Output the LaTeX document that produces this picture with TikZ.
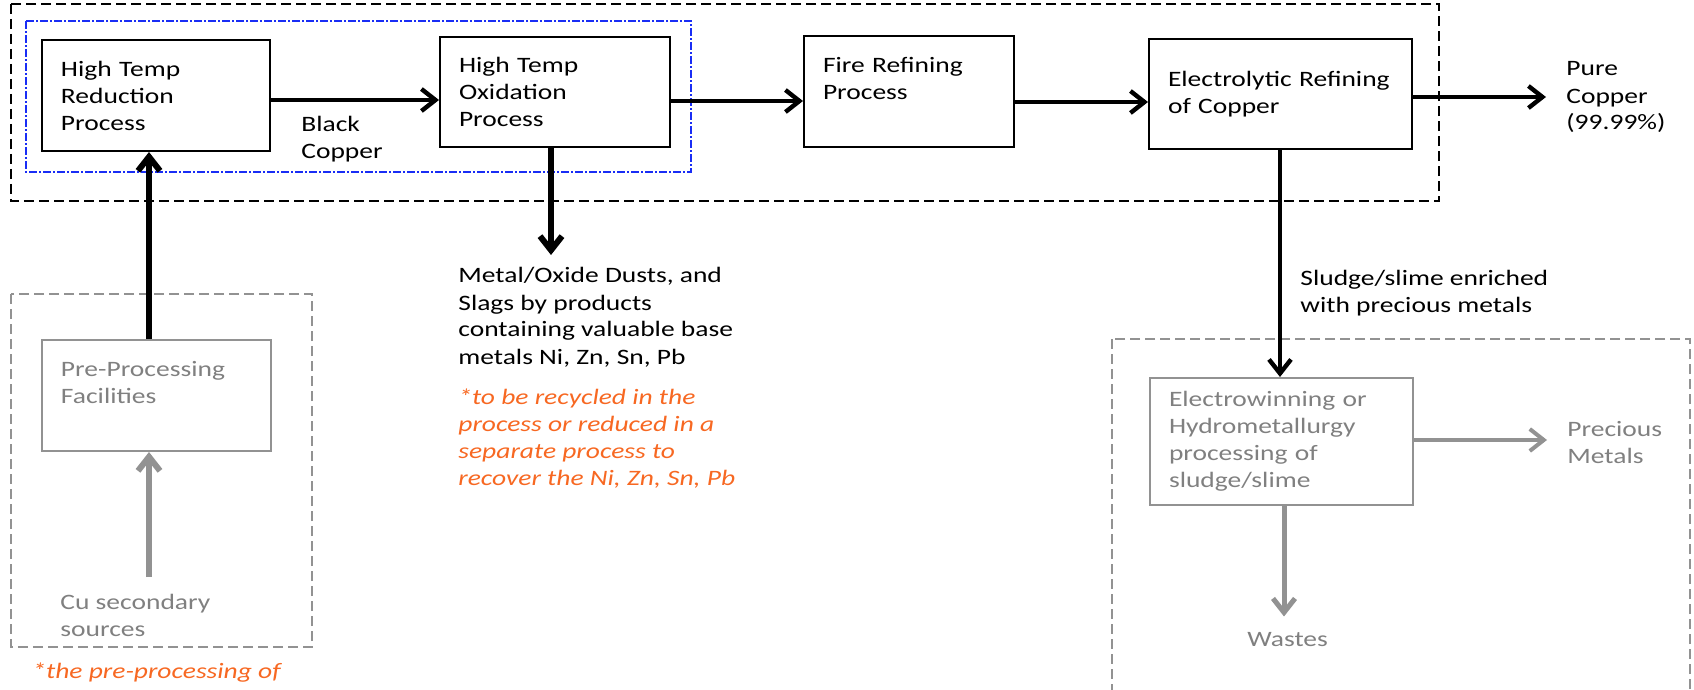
\documentclass[tikz,border=0pt]{standalone}
\usepackage{fontspec}
\setmainfont{Carlito}[FakeStretch=1.25]
\usetikzlibrary{arrows.meta}
\definecolor{procgray}{RGB}{146,146,146}
\definecolor{textgray}{RGB}{128,128,128}
\definecolor{noteorange}{RGB}{247,104,34}
\definecolor{boxblue}{RGB}{25,45,245}
\tikzset{
  proc/.style={draw, line width=1pt, anchor=north west, align=left,
    inner xsep=9.5pt, text width=#1, font=\fontsize{11}{13.5}\selectfont},
  grayproc/.style={proc=#1, draw=procgray, text=textgray},
  flow/.style={line width=2.2pt, -{Straight Barb[length=7pt,width=11pt]}},
  grayflow/.style={flow, draw=procgray},
  txt/.style={anchor=base west, inner sep=0pt, align=left,
    font=\fontsize{11}{13.5}\selectfont},
  note/.style={txt, text=noteorange, font=\fontsize{11}{13.5}\selectfont\itshape},
  frame/.style={line width=1pt, dash pattern=on 5pt off 2.5pt}
}
\begin{document}
\begin{tikzpicture}[x=0.5pt, y=-0.5pt]
\useasboundingbox (0,0) rectangle (1694,690);
\clip (0,0) rectangle (1694,690);

%frames
\draw[frame] (11,4) rectangle (1439,201);
\draw[boxblue, line width=0.7pt, dash pattern=on 4pt off 1pt on 1pt off 1pt] (26,21) rectangle (691,172);
\draw[frame, procgray] (11,294) rectangle (312,647);
\draw[frame, procgray] (1112,339) rectangle (1690,720);

%main process line
\node[proc=95pt, minimum height=55.5pt] (red) at (41,39) {High Temp\\Reduction\\Process};
\node[proc=96pt, minimum height=55pt] (oxi) at (439,36) {High Temp\\Oxidation\\Process};
\node[proc=86pt, minimum height=55.5pt] (fire) at (803,35) {Fire Refining\\Process\\\mbox{}};
\node[proc=112.5pt, minimum height=55pt] (elec) at (1148,38) {Electrolytic Refining\\of Copper};

%side processes
\node[grayproc=95.5pt, minimum height=55.5pt] (prep) at (41,339) {Pre-Processing\\Facilities\\\mbox{}};
\node[grayproc=112.5pt, minimum height=63.5pt] (hydro) at (1149,377) {Electrowinning or\\Hydrometallurgy\\processing of\\sludge/slime};

%texts (base = last line)
\node[txt] (black) at (301,159) {Black\\Copper};
\node[txt] (pure) at (1566,130) {Pure\\Copper\\(99.99\%)};
\node[txt] (dust) at (458,364) {Metal/Oxide Dusts, and\\Slags by products\\containing valuable base\\metals Ni, Zn, Sn, Pb};
\node[note] (recycle) at (458,485) {*to be recycled in the\\process or reduced in a\\separate process to\\recover the Ni, Zn, Sn, Pb};
\node[txt] (sludge) at (1300,313) {Sludge/slime enriched\\with precious metals};
\node[txt, text=textgray] (precious) at (1567,463) {Precious\\Metals};
\node[txt, text=textgray] (wastes) at (1247,646) {Wastes};
\node[txt, text=textgray] (cu) at (60,636) {Cu secondary\\sources};
\node[note] (prenote) at (32,678) {*the pre-processing of};
\coordinate (dustin) at (551,255);
\coordinate (cuout) at (149,577);

%arrows
\draw[flow] (red.east |- 0,100) -- (oxi.west |- 0,100);
\draw[flow] (oxi.east |- 0,101) -- (fire.west |- 0,101);
\draw[flow] (fire.east |- 0,102) -- (elec.west |- 0,102);
\draw[flow, shorten >=10pt] (elec.east |- 0,97) -- (pure.west |- 0,97);
\draw[flow, line width=3pt] (oxi.south -| dustin) -- (dustin);
\draw[flow, line width=3pt] (prep.north -| cuout) -- (red.south -| cuout);
\draw[grayflow, line width=3pt] (cuout) -- (prep.south -| cuout);
\draw[flow] (elec.south -| 1280,0) -- (hydro.north -| 1280,0);
\draw[grayflow, line width=2pt, shorten >=10pt] (hydro.east |- 0,440) -- (precious.west |- 0,440);
\draw[grayflow, line width=2.5pt, shorten >=7.5pt] (hydro.south -| 1284,0) -- (wastes.north -| 1284,0);
\end{tikzpicture}
\end{document}
